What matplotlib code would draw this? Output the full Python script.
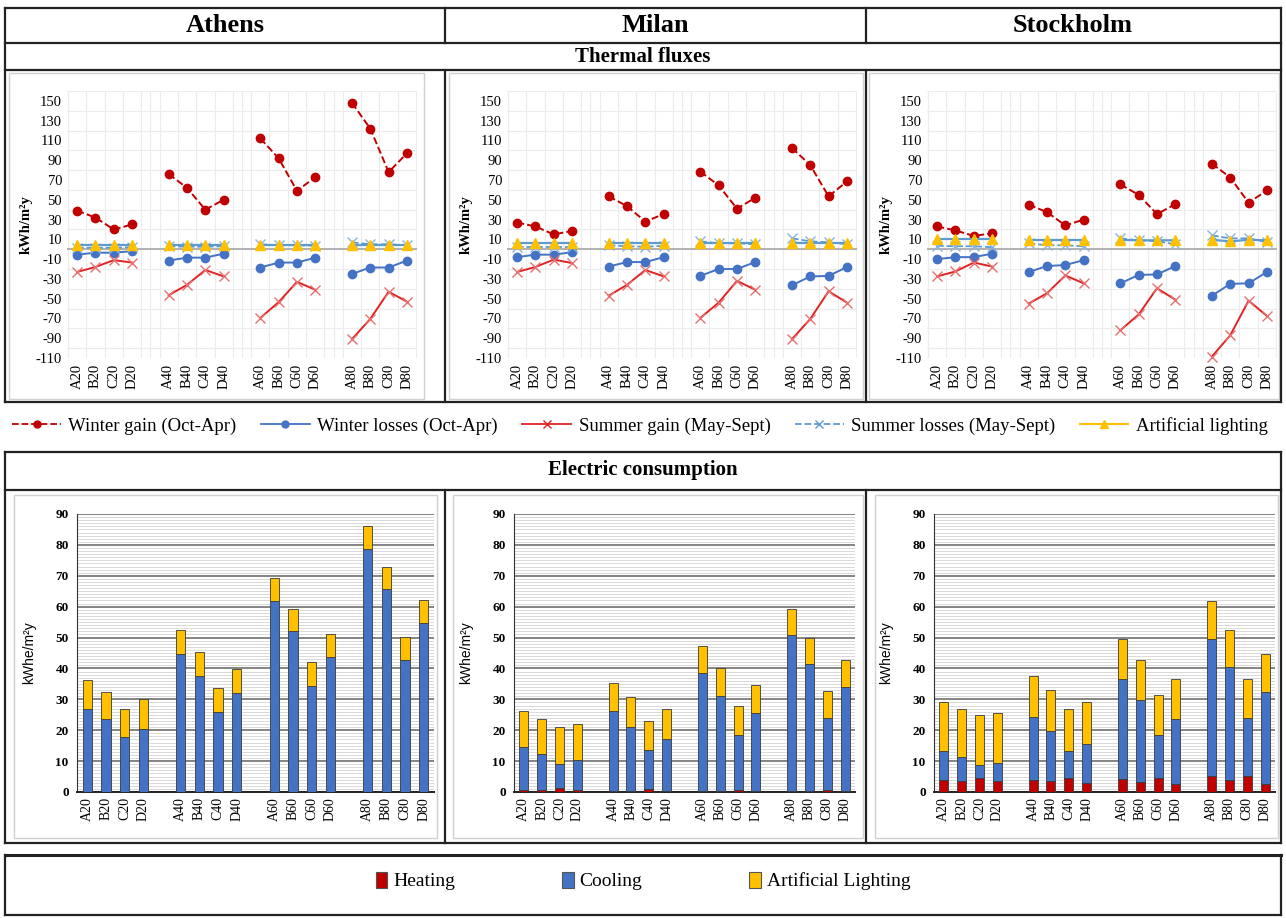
import numpy as np
import matplotlib
matplotlib.use("Agg")
import matplotlib.pyplot as plt
from matplotlib.lines import Line2D
from matplotlib.patches import Patch, Rectangle

plt.rcParams["font.family"] = ["Liberation Serif", "DejaVu Serif"]
plt.rcParams["axes.unicode_minus"] = False

# -----------------------------
# Data
# -----------------------------
cities = ["Athens", "Milan", "Stockholm"]
categories = ["A20", "B20", "C20", "D20", "A40", "B40", "C40", "D40",
              "A60", "B60", "C60", "D60", "A80", "B80", "C80", "D80"]

# thermal fluxes, kWh/m2y
athens_winter_gain = [39, 32, 20, 25, 76, 62, 40, 50, 112, 92, 59, 73, 148, 122, 78, 97]
athens_winter_losses = [-5.5, -3.5, -3.5, -2, -11.5, -8.5, -8.5, -4.5, -18.5, -13.5, -13.5, -8.5, -25, -18.5, -18.5, -11.5]
athens_summer_gain = [-23, -18, -11, -13.5, -46.5, -36, -21, -27.5, -69.5, -53.5, -33, -41, -91, -70.5, -43, -53]
athens_summer_losses = [1.5, 1.5, 1.5, 2, 3, 2.5, 2.5, 3, 5, 4, 4, 3.5, 7, 5, 5, 4]
athens_lighting = [4.5] * 16

milan_winter_gain = [27, 23, 15, 18.5, 53.5, 43.5, 28, 35.5, 78.5, 64.5, 41, 52, 102.5, 85, 53.5, 68.5]
milan_winter_losses = [-8, -5.5, -5.5, -3, -17.5, -13, -13, -8, -27, -20, -20, -13, -36.5, -27.5, -27, -18]
milan_summer_gain = [-23, -18, -10.5, -14, -47, -36, -21, -27.5, -69.5, -54, -32, -41, -91, -70.5, -42.5, -54]
milan_summer_losses = [2, 2, 2, 2, 4, 3, 2.5, 3.5, 8, 6, 6, 5, 11, 8, 7, 5]
milan_lighting = [6] * 16

stockholm_winter_gain = [23, 19, 13.5, 16, 45, 37.5, 24, 30, 65.5, 55, 35.5, 45.5, 86.5, 72.5, 47, 59.5]
stockholm_winter_losses = [-10, -8, -8, -4.5, -23, -17, -16, -11, -34.5, -26, -25.5, -17, -47, -35, -34.5, -23]
stockholm_summer_gain = [-27.5, -22.5, -13.5, -17.5, -55, -44.5, -26.5, -34.5, -82, -66, -39.5, -51, -108.5, -87, -52, -67.5]
stockholm_summer_losses = [3.5, 3, 3, 2, 6, 4, 4, 3, 11, 9, 8, 5, 14, 11, 11, 7]
stockholm_lighting = [10, 10, 10, 10, 9, 9, 9, 9, 9.5, 9, 9, 9, 9.5, 8, 9.5, 9]

# electric consumption, kWhe/m2y
athens_heating = [0] * 16
athens_cooling = [27, 23.5, 17.7, 20.5, 44.7, 37.7, 25.9, 31.9, 61.9, 52, 34.4, 43.6, 78.7, 65.8, 42.6, 54.8]
athens_elec_lighting = [9.3, 8.9, 9.3, 9.5, 7.7, 7.7, 7.9, 7.9, 7.5, 7.4, 7.8, 7.6, 7.5, 7.2, 7.5, 7.5]

milan_heating = [0.5, 0.5, 1.3, 0.5, 0.2, 0.2, 1.0, 0.2, 0.2, 0.2, 0.8, 0.2, 0.2, 0.2, 0.7, 0.2]
milan_cooling = [14.2, 11.8, 7.9, 9.8, 26.0, 20.9, 12.6, 17.1, 38.2, 31.0, 17.7, 25.3, 50.5, 41.1, 23.3, 33.7]
milan_elec_lighting = [11.5, 11.2, 11.7, 11.8, 9.2, 9.5, 9.5, 9.5, 9.0, 8.8, 9.4, 9.3, 8.6, 8.7, 8.8, 8.8]

stockholm_heating = [3.9, 3.7, 4.5, 3.4, 3.9, 3.4, 4.5, 2.8, 4.3, 3.3, 4.5, 2.6, 5.1, 3.9, 5.1, 2.6]
stockholm_cooling = [9.4, 7.6, 4.4, 6.0, 20.5, 16.4, 8.7, 12.9, 32.4, 26.5, 13.8, 20.9, 44.3, 36.5, 18.9, 29.8]
stockholm_elec_lighting = [15.8, 15.6, 16.0, 16.1, 13.2, 13.1, 13.7, 13.4, 12.9, 12.8, 13.2, 13.2, 12.3, 12.0, 12.5, 12.2]

fluxes = {
    "Athens": [athens_winter_gain, athens_winter_losses, athens_summer_gain, athens_summer_losses, athens_lighting],
    "Milan": [milan_winter_gain, milan_winter_losses, milan_summer_gain, milan_summer_losses, milan_lighting],
    "Stockholm": [stockholm_winter_gain, stockholm_winter_losses, stockholm_summer_gain, stockholm_summer_losses, stockholm_lighting],
}
consumption = {
    "Athens": [athens_heating, athens_cooling, athens_elec_lighting],
    "Milan": [milan_heating, milan_cooling, milan_elec_lighting],
    "Stockholm": [stockholm_heating, stockholm_cooling, stockholm_elec_lighting],
}

# -----------------------------
# Layout helpers (pixel based)
# -----------------------------
W, H = 1286, 918
fig = plt.figure(figsize=(W / 100, H / 100), dpi=100)


def add_ax(x0, y0, x1, y1):
    return fig.add_axes([x0 / W, 1 - y1 / H, (x1 - x0) / W, (y1 - y0) / H])


def hline(y, x0=5, x1=1281, color="#222222", lw=1.6):
    fig.add_artist(Line2D([x0 / W, x1 / W], [1 - y / H, 1 - y / H], color=color, lw=lw))


def vline(x, y0, y1, color="#222222", lw=1.6):
    fig.add_artist(Line2D([x / W, x / W], [1 - y0 / H, 1 - y1 / H], color=color, lw=lw))


def box(x0, y0, x1, y1, color="#d0d0d0", lw=1.0):
    fig.add_artist(Rectangle((x0 / W, 1 - y1 / H), (x1 - x0) / W, (y1 - y0) / H,
                             fill=False, edgecolor=color, lw=lw))


def text(x, y, s, **kw):
    fig.text(x / W, 1 - y / H, s, ha="center", va="center", **kw)


# x positions with a blank slot between groups
xpos = np.array([g * 5 + i for g in range(4) for i in range(4)])

# -----------------------------
# Table frame
# -----------------------------
hline(8); hline(43); hline(70); hline(402)
vline(5, 8, 402); vline(1281, 8, 402)
vline(445, 8, 43); vline(866, 8, 43)
vline(445, 70, 402); vline(866, 70, 402)
hline(452); hline(490); hline(843)
vline(5, 452, 843); vline(1281, 452, 843)
vline(445, 490, 843); vline(866, 490, 843)
hline(855, lw=2.2); hline(915)
vline(5, 855, 915); vline(1281, 855, 915)

for cx, name in zip([225, 655, 1073], cities):
    text(cx, 26, name, fontsize=19, fontweight="bold")
text(643, 57, "Thermal fluxes", fontsize=15, fontweight="bold")
text(643, 470, "Electric consumption", fontsize=15, fontweight="bold")

# light chart-area borders
for b in [(9, 73, 424, 399), (449, 73, 863, 399), (869, 73, 1279, 399)]:
    box(*b)
for b in [(14, 495, 437, 838), (453, 495, 863, 838), (875, 495, 1278, 838)]:
    box(*b)

# -----------------------------
# Thermal fluxes (line charts)
# -----------------------------
line_rects = [(67, 91, 417, 358), (507, 91, 857, 358), (927, 91, 1277, 358)]
styles = [
    dict(color="#c00000", ls="--", lw=1.4, marker="o", ms=6, mfc="#c00000", mec="#c00000"),
    dict(color="#4472c4", ls="-", lw=1.4, marker="o", ms=6, mfc="#4472c4", mec="#4472c4"),
    dict(color="#e02424", ls="-", lw=1.4, marker="x", ms=7, mec="#e87070", mew=1.0),
    dict(color="#5b9bd5", ls="--", lw=1.3, marker="x", ms=7, mec="#8ab4e0", mew=1.0),
    dict(color="#5b9bd5", ls="-", lw=1.6, marker="^", ms=7, mfc="#ffc000", mec="#ffc000"),
]

for city, rect in zip(cities, line_rects):
    ax = add_ax(*rect)
    series = fluxes[city]
    for vals, st in zip(series, styles):
        for g in range(4):
            sl = slice(g * 4, g * 4 + 4)
            ax.plot(xpos[sl], vals[sl], clip_on=False, zorder=3, **st)
    ax.axhline(0, color="#a6a6a6", lw=1.2, zorder=2)
    ax.set_xlim(-0.55, 18.55)
    ax.set_ylim(-110, 160)
    ax.set_yticks(np.arange(-110, 151, 20))
    ax.set_yticks(np.arange(-110, 161, 10), minor=True)
    ax.set_xticks(xpos)
    ax.set_xticklabels(categories, rotation=90, fontsize=10.5)
    ax.set_xticks(np.arange(-0.5, 19, 0.5), minor=True)
    ax.tick_params(axis="both", which="both", length=0, labelsize=10.5)
    ax.tick_params(axis="x", pad=4)
    ax.grid(True, which="minor", color="#ececec", lw=0.8)
    ax.set_axisbelow(True)
    for s in ax.spines.values():
        s.set_visible(False)
    ax.set_ylabel("kWh/m²y", fontsize=10.5, fontweight="bold", labelpad=2)

flux_handles = [
    Line2D([], [], color="#c00000", ls="--", lw=1.3, marker="o", ms=5),
    Line2D([], [], color="#4472c4", ls="-", lw=1.3, marker="o", ms=5),
    Line2D([], [], color="#e02424", ls="-", lw=1.3, marker="x", ms=6),
    Line2D([], [], color="#5b9bd5", ls="--", lw=1.3, marker="x", ms=6),
    Line2D([], [], color="#ffc000", ls="-", lw=1.5, marker="^", ms=6),
]
flux_labels = ["Winter gain (Oct-Apr)", "Winter losses (Oct-Apr)", "Summer gain (May-Sept)",
               "Summer losses (May-Sept)", "Artificial lighting"]
fig.legend(flux_handles, flux_labels, loc="center", bbox_to_anchor=(640 / W, 1 - 426 / H),
           ncol=5, frameon=False, fontsize=13.5, handlelength=2.6, columnspacing=1.3, handletextpad=0.4)

# -----------------------------
# Electric consumption (stacked bars)
# -----------------------------
bar_rects = [(77, 514, 434, 792), (514, 514, 855, 792), (934, 514, 1275, 792)]
bar_colors = ["#c00000", "#4472c4", "#ffc000"]

for city, rect in zip(cities, bar_rects):
    ax = add_ax(*rect)
    bottom = np.zeros(len(categories))
    for vals, col in zip(consumption[city], bar_colors):
        ax.bar(xpos, vals, 0.5, bottom=bottom, color=col, edgecolor="#3a3a3a", lw=0.6, zorder=3)
        bottom += np.array(vals)
    ax.set_xlim(-0.55, 18.55)
    ax.set_ylim(0, 90)
    ax.set_yticks(np.arange(0, 91, 10))
    ax.set_yticks(np.arange(0, 91, 1), minor=True)
    ax.grid(True, axis="y", which="minor", color="#d9d9d9", lw=0.7)
    ax.grid(True, axis="y", which="major", color="#707070", lw=1.2)
    ax.set_axisbelow(True)
    ax.set_xticks(xpos)
    ax.set_xticklabels(categories, rotation=90, fontsize=10)
    ax.tick_params(axis="both", which="both", length=0)
    ax.tick_params(axis="y", labelsize=9.5, pad=6)
    for lab in ax.get_yticklabels():
        lab.set_fontweight("bold")
    ax.spines["top"].set_visible(False)
    ax.spines["right"].set_visible(False)
    ax.spines["left"].set_color("#333333")
    ax.spines["bottom"].set_color("#222222")
    ax.spines["bottom"].set_linewidth(1.4)
    ax.set_ylabel("kWhe/m²y", fontsize=10, family="Liberation Sans", labelpad=14)

cons_handles = [Patch(facecolor=c, edgecolor="#555555", lw=0.8) for c in bar_colors]
fig.legend(cons_handles, ["Heating", "Cooling", "Artificial Lighting"], loc="center",
           bbox_to_anchor=(643 / W, 1 - 881 / H), ncol=3, frameon=False, fontsize=14,
           handlelength=0.6, handleheight=0.9, handletextpad=0.3, columnspacing=5.5)

fig.savefig("out.png", dpi=100)
